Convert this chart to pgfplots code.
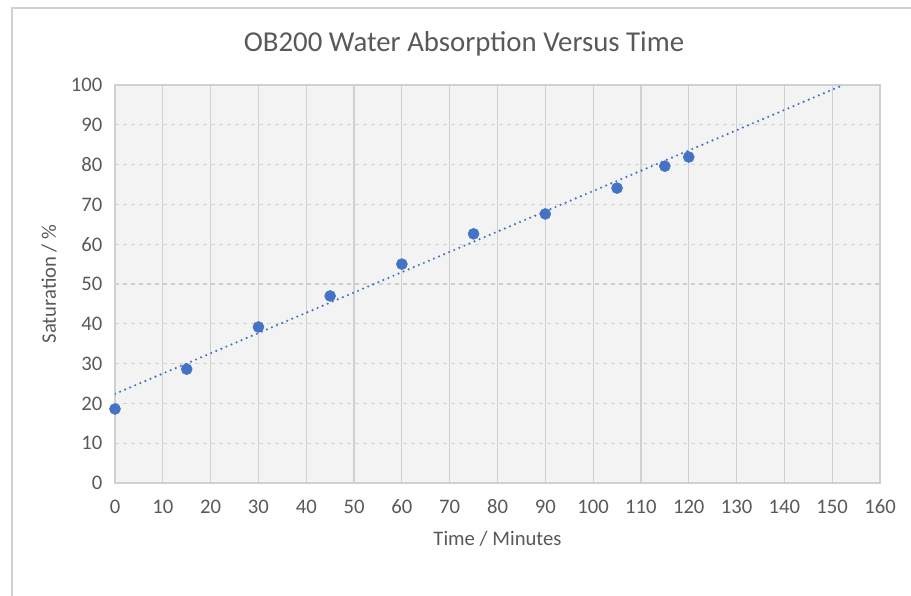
\documentclass[border=0pt]{standalone}
\usepackage{pgfplots}
\pgfplotsset{compat=1.18}
\usepackage{fontspec}
\setmainfont{Carlito}
\definecolor{pt}{HTML}{4472C4}
\definecolor{txt}{HTML}{595959}
\definecolor{gridc}{HTML}{D0D0D0}
\definecolor{bg}{HTML}{F3F3F3}
\newlength\px
\setlength\px{0.75pt}
\begin{document}
\begin{tikzpicture}[x=\px,y=\px]
\useasboundingbox (0,0) rectangle (911,596);
\draw[gridc, line width=1.2\px] (12,0) -- (12,588) -- (911,588);
\node[txt, font=\fontsize{21.6}{24}\selectfont] at (464,552) {OB200 Water Absorption Versus Time};
\begin{axis}[
  at={(115\px,113\px)}, anchor=south west,
  scale only axis, width=765\px, height=398\px,
  xmin=0, xmax=160, ymin=0, ymax=100,
  xtick={0,10,...,160}, ytick={0,10,...,100},
  major tick length=0pt,
  axis line style={gridc, line width=1.2\px},
  axis background/.style={fill=bg},
  xmajorgrids, ymajorgrids,
  x grid style={gridc, line width=1.2\px},
  y grid style={gridc, line width=1.2\px, dashed},
  tick label style={txt, font=\fontsize{15.5}{18}\selectfont},
  xticklabel style={yshift=-12\px},
  yticklabel style={xshift=-8\px},
  /pgf/number format/assume math mode=true,
  xlabel={Time / Minutes}, ylabel={Saturation / \%},
  label style={txt, font=\fontsize{15.5}{18}\selectfont},
  xlabel style={yshift=-8\px},
  ylabel style={yshift=5\px},
  clip=true,
]
\addplot[pt, line width=2.4\px, line cap=round, dash pattern=on 0pt off 5.5\px] coordinates {(0,22.4) (152.3,100)};
\addplot[only marks, mark=*, mark size=5.5\px, pt, mark options={fill=pt, draw=pt}] coordinates {
(0,18.6) (15,28.6) (30,39.2) (45,47.0) (60,55.0) (75,62.6) (90,67.6) (105,74.1) (115,79.6) (120,81.9)
};
\end{axis}
\end{tikzpicture}
\end{document}
